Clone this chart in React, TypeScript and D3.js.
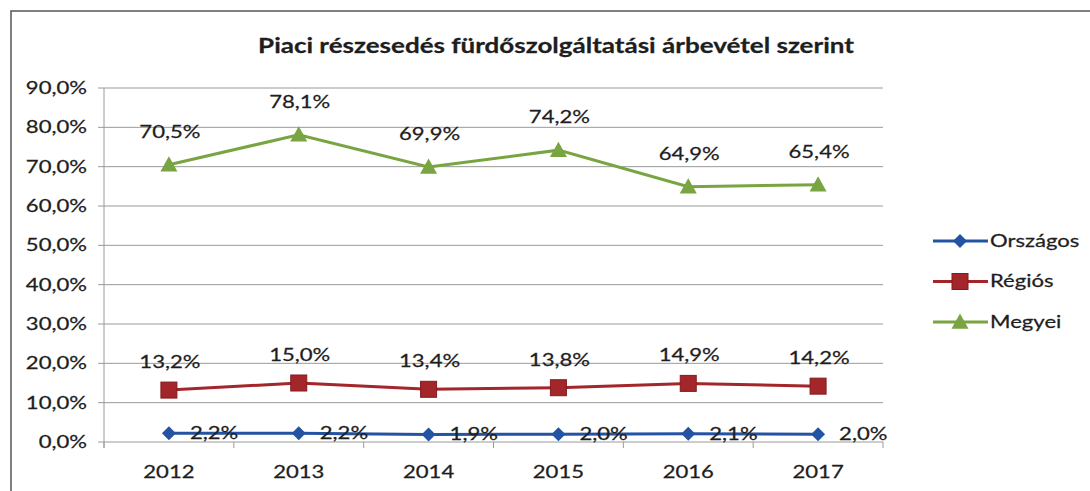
import React from "react";
import * as d3 from "d3";

const years = ["2012", "2013", "2014", "2015", "2016", "2017"];
const orszagos = [2.2, 2.2, 1.9, 2.0, 2.1, 2.0];
const regios = [13.2, 15.0, 13.4, 13.8, 14.9, 14.2];
const megyei = [70.5, 78.1, 69.9, 74.2, 64.9, 65.4];
const yTicks = [0, 10, 20, 30, 40, 50, 60, 70, 80, 90];
const seriesNames = ["Országos", "Régiós", "Megyei"];
const title = "Piaci részesedés fürdőszolgáltatási árbevétel szerint";

const W = 1090;
const H = 491;
const plot = { left: 104, right: 883, top: 88, bottom: 442 };
const font = "Lato, 'Open Sans', sans-serif";
const stretch = 1.3; // the scanned text is much wider than Lato

const colors = ["#2553a3", "#a3262a", "#78a541"];
const labelLift = [0, 28, 33];

const fmt = (v: number) => v.toFixed(1).replace(".", ",") + "%";

// text that is widened horizontally around its anchor point
function T({ x, y, anchor = "start", size = 17, bold = false, children }: any) {
  return (
    <text
      transform={`translate(${x},${y}) scale(${stretch},1)`}
      textAnchor={anchor}
      dy="0.35em"
      fontSize={size}
      fontWeight={bold ? "bold" : "normal"}
      fill="#1e1e1e"
      stroke="#1e1e1e"
      strokeWidth={0.25}
    >
      {children}
    </text>
  );
}

function Marker({ kind, x, y, color }: { kind: number; x: number; y: number; color: string }) {
  if (kind === 0) {
    const s = 7;
    return <path d={`M${x},${y - s}L${x + s},${y}L${x},${y + s}L${x - s},${y}Z`} fill={color} />;
  }
  if (kind === 1) {
    const s = 8;
    return <rect x={x - s} y={y - s} width={2 * s} height={2 * s} fill={color} stroke="#861b1e" strokeWidth={1} />;
  }
  const s = 8.5;
  return <path d={`M${x},${y - s}L${x + s},${y + s * 0.8}L${x - s},${y + s * 0.8}Z`} fill={color} />;
}

export default function App() {
  const x = d3.scaleBand<string>().domain(years).range([plot.left, plot.right]);
  const y = d3.scaleLinear().domain([0, 90]).range([plot.bottom, plot.top]);
  const cx = (d: string) => (x(d) ?? 0) + x.bandwidth() / 2;
  const data = [orszagos, regios, megyei];
  const line = d3
    .line<number>()
    .x((_, i) => cx(years[i]))
    .y((v) => y(v));

  return (
    <svg width={W} height={H} style={{ position: "absolute", left: 0, top: 0, background: "#fff" }} fontFamily={font}>
      <rect x={11} y={11} width={W + 20} height={H + 20} fill="#fff" stroke="#555" strokeWidth={1.5} />
      <T x={556} y={46} anchor="middle" size={20} bold>
        {title}
      </T>

      {/* grid */}
      {yTicks.map((t) => (
        <g key={t}>
          <line x1={plot.left - 6} x2={plot.right} y1={y(t)} y2={y(t)} stroke="#9a9a9a" strokeWidth={1} />
          <T x={87} y={y(t)} anchor="end">
            {fmt(t)}
          </T>
        </g>
      ))}
      <line x1={plot.left} x2={plot.left} y1={plot.top} y2={plot.bottom + 6} stroke="#9a9a9a" />
      {years.map((yr) => (
        <g key={yr}>
          <line x1={x(yr) ?? 0} x2={x(yr) ?? 0} y1={plot.bottom} y2={plot.bottom + 6} stroke="#9a9a9a" />
          <T x={cx(yr)} y={plot.bottom + 30} anchor="middle">
            {yr}
          </T>
        </g>
      ))}
      <line x1={plot.right} x2={plot.right} y1={plot.bottom} y2={plot.bottom + 6} stroke="#9a9a9a" />

      {/* series */}
      {data.map((vals, s) => (
        <g key={s}>
          <path d={line(vals) ?? ""} fill="none" stroke={colors[s]} strokeWidth={3} />
          {vals.map((v, i) => (
            <Marker key={i} kind={s} x={cx(years[i])} y={y(v)} color={colors[s]} />
          ))}
          {vals.map((v, i) =>
            s === 0 ? (
              <T key={"l" + i} x={cx(years[i]) + 21} y={y(v)}>
                {fmt(v)}
              </T>
            ) : (
              <T key={"l" + i} x={cx(years[i]) + 1} y={y(v) - labelLift[s]} anchor="middle">
                {fmt(v)}
              </T>
            )
          )}
        </g>
      ))}

      {/* legend */}
      {seriesNames.map((name, s) => {
        const ly = 241 + s * 40.5;
        return (
          <g key={name}>
            <line x1={933} x2={988} y1={ly} y2={ly} stroke={colors[s]} strokeWidth={3} />
            <Marker kind={s} x={960} y={ly} color={colors[s]} />
            <T x={990} y={ly}>
              {name}
            </T>
          </g>
        );
      })}
    </svg>
  );
}
